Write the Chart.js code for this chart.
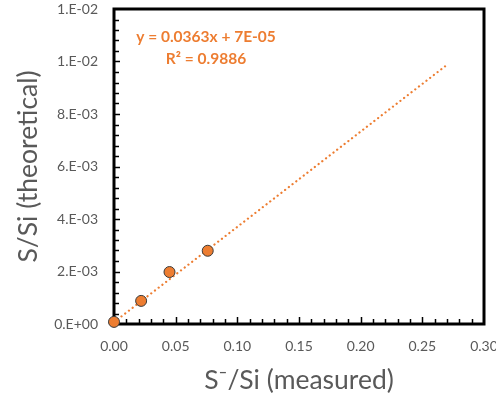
<!DOCTYPE html>
<html>
<head>
<meta charset="utf-8">
<script src="https://cdn.jsdelivr.net/npm/chart.js@4/dist/chart.umd.min.js"></script>
<style>
  html,body{margin:0;padding:0;background:#fff}
  #wrap{width:496px;height:401px}
</style>
</head>
<body>
<div id="wrap"><canvas id="c" width="496" height="401"></canvas></div>
<script>
// ----- data -----
const measured    = [0.0, 0.022, 0.045, 0.076];          // S-/Si (measured)
const theoretical = [0.00008, 0.00088, 0.00198, 0.00279]; // S/Si (theoretical)
const trendX = [0.0, 0.271];       // dotted linear trendline ends
const trendY = [0.00007, 0.00991];
const xTickLabels = ["0.00","0.05","0.10","0.15","0.20","0.25","0.30"];
const yTickLabels = ["0.E+00","2.E-03","4.E-03","6.E-03","8.E-03","1.E-02","1.E-02"];
const eqText = "y = 0.0363x + 7E-05";
const r2Text = "R\u00B2 = 0.9886";

// ----- axis setup -----
const X_MAX = 0.3, X_STEP = 0.05, X_MINOR = 0.01;
const Y_MAX = 0.012, Y_STEP = 0.002, Y_MINOR = 0.0004;
const ORANGE = "#ED7D31", GREY = "#595959";
const FONT = "Lato, 'Open Sans', sans-serif";

// frame + inward major/minor ticks like the Excel original
const frame = {
  id: "frame",
  beforeDatasetsDraw(chart){
    const {ctx, chartArea:a, scales:{x, y}} = chart;
    ctx.save();
    ctx.strokeStyle = "#000";
    ctx.lineWidth = 1.5;
    const nx = Math.round(X_MAX / X_MINOR), perX = Math.round(X_STEP / X_MINOR);
    for(let i=1;i<nx;i++){
      const px = Math.round(x.getPixelForValue(i*X_MINOR)) + 0.5;
      ctx.beginPath();
      ctx.moveTo(px, a.bottom);
      ctx.lineTo(px, a.bottom - (i%perX===0 ? 7 : 5));
      ctx.stroke();
    }
    const ny = Math.round(Y_MAX / Y_MINOR), perY = Math.round(Y_STEP / Y_MINOR);
    for(let i=1;i<ny;i++){
      const py = Math.round(y.getPixelForValue(i*Y_MINOR)) + 0.5;
      ctx.beginPath();
      ctx.moveTo(a.left, py);
      ctx.lineTo(a.left + (i%perY===0 ? 6 : 5), py);
      ctx.stroke();
    }
    ctx.lineWidth = 3;
    ctx.strokeRect(a.left, a.top, a.width, a.height);
    ctx.restore();
  },
  afterDraw(chart){
    const {ctx, chartArea:a} = chart;
    ctx.save();
    ctx.fillStyle = ORANGE;
    ctx.font = "bold 15.5px " + FONT;
    ctx.textAlign = "center";
    ctx.textBaseline = "middle";
    ctx.fillText(eqText, a.left + 92, a.top + 28);
    ctx.fillText(r2Text, a.left + 92, a.top + 50);
    ctx.restore();
  }
};

new Chart(document.getElementById("c"), {
  type: "scatter",
  data: {
    datasets: [
      {
        label: "trend",
        type: "line",
        data: trendX.map((v,i)=>({x:v, y:trendY[i]})),
        borderColor: ORANGE,
        borderWidth: 2.2,
        borderDash: [0.1, 4.6],
        borderCapStyle: "round",
        pointRadius: 0,
        fill: false,
        order: 2
      },
      {
        label: "S/Si",
        data: measured.map((v,i)=>({x:v, y:theoretical[i]})),
        backgroundColor: ORANGE,
        borderColor: "#3b3b3b",
        borderWidth: 1,
        pointRadius: 5.5,
        clip: false,
        order: 1
      }
    ]
  },
  options: {
    responsive: false,
    animation: false,
    devicePixelRatio: 1,
    layout: { padding: { left: 0, right: 12, top: 9, bottom: 0 } },
    plugins: { legend: { display: false }, tooltip: { enabled: false } },
    scales: {
      x: {
        type: "linear", min: 0, max: X_MAX,
        grid: { display: false, drawTicks: false },
        border: { display: false },
        ticks: {
          stepSize: X_STEP, padding: 14, color: GREY,
          font: { family: FONT, size: 14 },
          maxRotation: 0, autoSkip: false,
          callback: (v, i) => xTickLabels[i]
        },
        title: {
          display: true, text: "S\u207B/Si (measured)", color: GREY,
          font: { family: FONT, size: 26.5 }, padding: { top: 0, bottom: 5 }
        },
        afterFit(s){ s.height = 77; s.paddingLeft = 0; s.paddingRight = 0; }
      },
      y: {
        type: "linear", min: 0, max: Y_MAX,
        grid: { display: false, drawTicks: false },
        border: { display: false },
        ticks: {
          stepSize: Y_STEP, padding: 16, color: GREY,
          font: { family: FONT, size: 14 },
          autoSkip: false,
          callback: (v, i) => yTickLabels[i]
        },
        title: {
          display: true, text: "S/Si (theoretical)", color: GREY,
          font: { family: FONT, size: 26.5 }, padding: { top: 13, bottom: 0 }
        },
        afterFit(s){ s.width = 114; s.paddingTop = 0; s.paddingBottom = 0; }
      }
    }
  },
  plugins: [frame]
});
</script>
</body>
</html>
